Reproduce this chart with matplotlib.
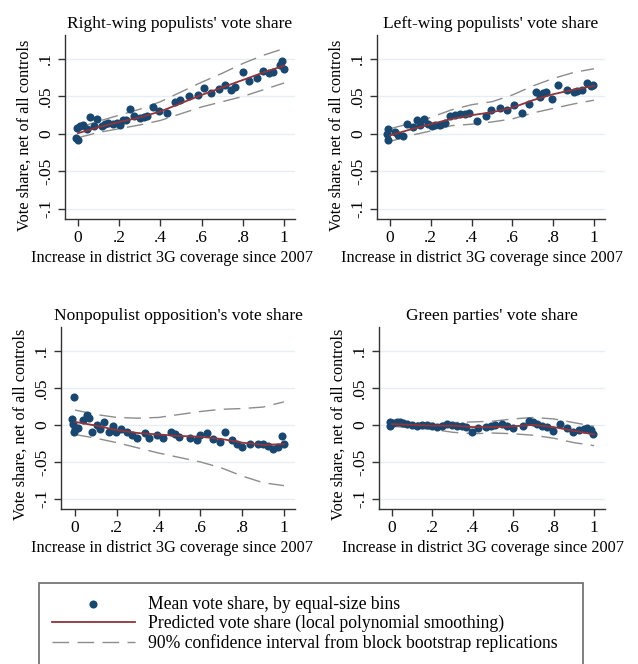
import numpy as np
import matplotlib
matplotlib.use("Agg")
import matplotlib.pyplot as plt

plt.rcParams['font.family'] = ['Liberation Serif', 'DejaVu Serif']

titles = ["Right-wing populists' vote share", "Left-wing populists' vote share",
          "Nonpopulist opposition's vote share", "Green parties' vote share"]
xlabel = "Increase in district 3G coverage since 2007"
ylabel = "Vote share, net of all controls"
xticks = [0, 0.2, 0.4, 0.6, 0.8, 1.0]
xticklabels = ["0", ".2", ".4", ".6", ".8", "1"]
yticks = [-0.1, -0.05, 0, 0.05, 0.1]
yticklabels = ["-.1", "-.05", "0", ".05", ".1"]
legend_labels = ["Mean vote share, by equal-size bins",
                 "Predicted vote share (local polynomial smoothing)",
                 "90% confidence interval from block bootstrap replications"]

# ---- binned means ----
rw_x = [-0.01, 0.0, -0.003, 0.01, 0.026, 0.045, 0.058, 0.078, 0.094, 0.115, 0.131, 0.147, 0.17,
        0.188, 0.204, 0.22, 0.233, 0.252, 0.272, 0.30, 0.32, 0.337, 0.362, 0.395, 0.43, 0.47,
        0.495, 0.54, 0.58, 0.612, 0.644, 0.683, 0.715, 0.744, 0.762, 0.80, 0.828, 0.871, 0.90,
        0.929, 0.948, 0.98, 0.99, 1.0]
rw_y = [-0.006, -0.008, 0.0075, 0.011, 0.0115, 0.006, 0.022, 0.011, 0.0195, 0.01, 0.013, 0.015,
        0.013, 0.015, 0.0115, 0.018, 0.019, 0.033, 0.024, 0.021, 0.023, 0.024, 0.0355, 0.031,
        0.0285, 0.043, 0.045, 0.05, 0.052, 0.061, 0.054, 0.0595, 0.065, 0.0587, 0.062, 0.082,
        0.07, 0.074, 0.084, 0.081, 0.083, 0.092, 0.097, 0.086]

lw_x = [-0.016, -0.012, -0.01, 0.025, 0.041, 0.065, 0.085, 0.111, 0.131, 0.147, 0.167, 0.188,
        0.204, 0.22, 0.245, 0.27, 0.294, 0.319, 0.343, 0.368, 0.389, 0.428, 0.47, 0.494, 0.539,
        0.575, 0.608, 0.645, 0.683, 0.716, 0.733, 0.752, 0.765, 0.793, 0.825, 0.869, 0.902,
        0.918, 0.941, 0.967, 0.984, 0.997]
lw_y = [0.0, -0.008, 0.006, 0.003, -0.0013, -0.0027, 0.0133, 0.0098, 0.0187, 0.012, 0.0196,
        0.013, 0.0107, 0.012, 0.012, 0.015, 0.024, 0.0253, 0.0267, 0.0267, 0.0284, 0.0178,
        0.024, 0.032, 0.034, 0.032, 0.0387, 0.0284, 0.04, 0.0564, 0.0498, 0.0542, 0.0564,
        0.0462, 0.0653, 0.0587, 0.0564, 0.0578, 0.0587, 0.0676, 0.064, 0.0653]

np_x = [-0.005, -0.016, -0.01, 0.0, -0.005, 0.016, 0.037, 0.056, 0.069, 0.08, 0.107, 0.122,
        0.139, 0.164, 0.18, 0.196, 0.219, 0.247, 0.271, 0.295, 0.335, 0.356, 0.391, 0.42,
        0.458, 0.478, 0.499, 0.55, 0.582, 0.60, 0.63, 0.662, 0.694, 0.718, 0.75, 0.774, 0.797,
        0.837, 0.877, 0.901, 0.925, 0.949, 0.973, 0.989, 1.0]
np_y = [0.038, 0.0076, 0.001, -0.006, -0.0103, -0.0036, 0.0063, 0.0134, 0.009, -0.0103, 0.0,
        -0.006, 0.0045, -0.0103, -0.0013, -0.009, -0.006, -0.0103, -0.0134, -0.018, -0.0116,
        -0.018, -0.0134, -0.018, -0.009, -0.0125, -0.016, -0.018, -0.0206, -0.0134, -0.0116,
        -0.0197, -0.0237, -0.009, -0.0206, -0.026, -0.0295, -0.026, -0.026, -0.026, -0.028,
        -0.0327, -0.030, -0.0148, -0.026]

gr_x = [-0.01, -0.009, 0.007, 0.023, 0.04, 0.056, 0.073, 0.097, 0.122, 0.147, 0.172, 0.196,
        0.221, 0.246, 0.271, 0.296, 0.32, 0.345, 0.366, 0.394, 0.427, 0.465, 0.488, 0.51, 0.543,
        0.571, 0.60, 0.647, 0.68, 0.70, 0.72, 0.74, 0.766, 0.795, 0.832, 0.865, 0.894, 0.923,
        0.95, 0.967, 0.984, 0.997]
gr_y = [-0.0013, 0.0045, 0.003, 0.0045, 0.004, 0.0022, 0.0009, 0.0, -0.0013, 0.0, 0.0, -0.0013,
        -0.0027, -0.002, 0.0009, 0.0, -0.0013, -0.002, -0.0027, -0.009, -0.0036, -0.0027, -0.002,
        -0.0004, 0.0009, -0.002, -0.0036, -0.0013, 0.0054, 0.0045, 0.0018, -0.0013, -0.0027,
        -0.008, 0.0018, -0.004, -0.0103, -0.0067, -0.0054, -0.004, -0.0076, -0.0125]

# ---- smoothed fit and 90% CI on a grid ----
grid_x = [0.0, 0.1, 0.2, 0.3, 0.4, 0.5, 0.6, 0.7, 0.8, 0.9, 1.0]
rw_fit = [0.001, 0.009, 0.016, 0.022, 0.030, 0.041, 0.052, 0.062, 0.072, 0.082, 0.091]
rw_hi = [0.008, 0.017, 0.025, 0.033, 0.043, 0.056, 0.069, 0.081, 0.094, 0.105, 0.114]
rw_lo = [-0.005, 0.002, 0.007, 0.012, 0.018, 0.027, 0.036, 0.043, 0.050, 0.059, 0.068]

lw_fit = [-0.002, 0.006, 0.013, 0.020, 0.025, 0.029, 0.035, 0.045, 0.053, 0.059, 0.064]
lw_hi = [0.007, 0.014, 0.022, 0.032, 0.039, 0.043, 0.052, 0.064, 0.074, 0.082, 0.087]
lw_lo = [-0.010, -0.002, 0.004, 0.011, 0.013, 0.016, 0.020, 0.028, 0.034, 0.040, 0.045]

np_fit = [0.004, -0.001, -0.007, -0.011, -0.013, -0.015, -0.016, -0.019, -0.024, -0.027, -0.026]
np_hi = [0.020, 0.014, 0.010, 0.009, 0.010, 0.014, 0.018, 0.021, 0.022, 0.024, 0.031]
np_lo = [-0.013, -0.018, -0.024, -0.031, -0.038, -0.044, -0.050, -0.058, -0.069, -0.078, -0.082]

gr_fit = [0.001, 0.0, -0.001, -0.001, -0.003, -0.003, -0.002, 0.0, -0.003, -0.008, -0.013]
gr_hi = [0.004, 0.003, 0.002, 0.003, 0.004, 0.005, 0.008, 0.010, 0.008, 0.003, -0.002]
gr_lo = [-0.002, -0.004, -0.006, -0.010, -0.012, -0.011, -0.012, -0.014, -0.018, -0.024, -0.028]

panels = [
    (rw_x, rw_y, rw_fit, rw_hi, rw_lo),
    (lw_x, lw_y, lw_fit, lw_hi, lw_lo),
    (np_x, np_y, np_fit, np_hi, np_lo),
    (gr_x, gr_y, gr_fit, gr_hi, gr_lo),
]

W, H = 638, 664
fig = plt.figure(figsize=(W / 100, H / 100), dpi=100)

# axes boxes in pixels: left, right, top, bottom
boxes = [(65, 295, 35, 219), (377, 605, 35, 219), (61, 295, 327, 509), (379, 605, 327, 509)]
xlims = [(-0.063, 1.053), (-0.064, 1.054), (-0.067, 1.053), (-0.064, 1.054)]
ylim = (-0.1135, 0.132)
xlabel_shift = [8, 9, 6, 9]   # px to the left
ylabel_shift = [8, 8, 6, 6]   # px downward

navy = '#1a476f'
maroon = '#90353b'
dash_gray = '#8c8c8c'
grid_col = '#e6eff1'

handles = None
for i, (px, py, fit, hi, lo) in enumerate(panels):
    l, r, t, b = boxes[i]
    ax = fig.add_axes([l / W, 1 - b / H, (r - l) / W, (b - t) / H])
    for yv in yticks:
        ax.axhline(yv, color=grid_col, lw=1.0, zorder=0)
    h_ci, = ax.plot(grid_x, hi, color=dash_gray, lw=1.0, dashes=(12, 6), zorder=2)
    ax.plot(grid_x, lo, color=dash_gray, lw=1.0, dashes=(12, 6), zorder=2)
    h_sc = ax.scatter(px, py, s=34, color=navy, zorder=3, linewidths=0)
    h_fit, = ax.plot(grid_x, fit, color=maroon, lw=1.3, zorder=4)
    if handles is None:
        handles = [h_sc, h_fit, h_ci]
    ax.set_xlim(*xlims[i])
    ax.set_ylim(*ylim)
    ax.set_xticks(xticks)
    ax.set_xticklabels(xticklabels)
    ax.set_yticks(yticks)
    ax.set_yticklabels(yticklabels, rotation=90, va='center')
    ax.tick_params(direction='out', length=5, width=1, labelsize=12.5, pad=3, color='#333333')
    for s in ['top', 'right']:
        ax.spines[s].set_visible(False)
    for s in ['left', 'bottom']:
        ax.spines[s].set_color('#333333')
        ax.spines[s].set_linewidth(1)
    ax.set_title(titles[i], fontsize=12.5, pad=5)
    ax.set_xlabel(xlabel, fontsize=11.7, labelpad=3)
    ax.set_ylabel(ylabel, fontsize=11.7, labelpad=4)
    ax.xaxis.label.set_x(0.5 - xlabel_shift[i] / (r - l))
    ax.yaxis.label.set_y(0.5 - ylabel_shift[i] / (b - t))

leg = fig.legend(handles, legend_labels, loc='upper left',
                 bbox_to_anchor=(39 / W, 1 - 583 / H, (583 - 39) / W, 0.0),
                 mode='expand', fontsize=12.7, frameon=True, fancybox=False,
                 handlelength=4.7, handletextpad=0.75, borderpad=0.72, labelspacing=0.12,
                 scatterpoints=1, borderaxespad=0)
leg.get_frame().set_edgecolor('#444444')
leg.get_frame().set_linewidth(1.2)

fig.savefig('out.png', dpi=100)
